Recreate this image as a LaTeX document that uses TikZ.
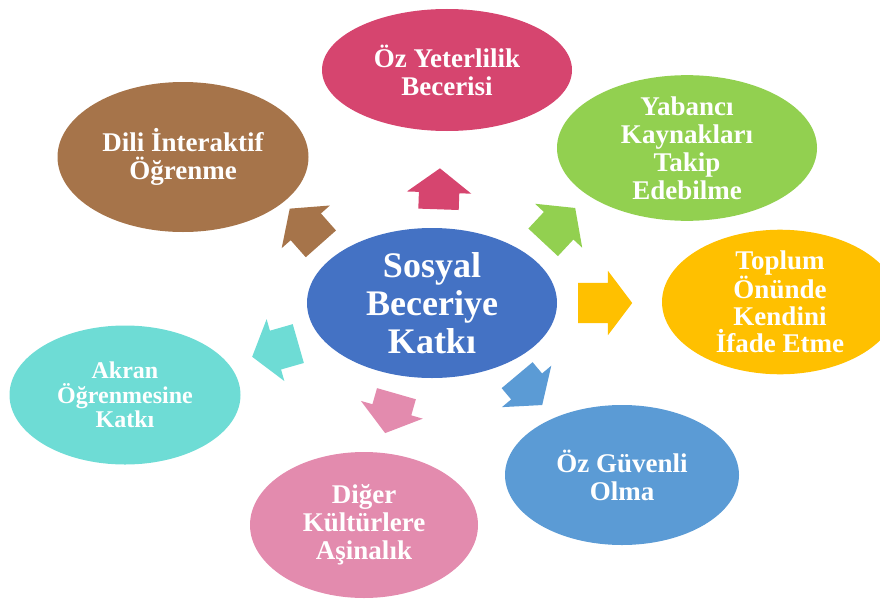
\documentclass[tikz,border=0pt]{standalone}
\usepackage{fontspec}
\setmainfont{Liberation Serif}
\usetikzlibrary{shapes.geometric, shapes.arrows}

\definecolor{cblue}{HTML}{4472C4}
\definecolor{crose}{HTML}{D6456F}
\definecolor{cgreen}{HTML}{92D050}
\definecolor{cgold}{HTML}{FFC000}
\definecolor{csky}{HTML}{5B9BD5}
\definecolor{cpink}{HTML}{E38BAE}
\definecolor{cteal}{HTML}{6EDCD5}
\definecolor{cbrown}{HTML}{A6744A}

\begin{document}
\begin{tikzpicture}[x=1pt, y=-1pt,
  bubble/.style={ellipse, draw=none, inner sep=0pt, align=center, text=white,
    font=\fontsize{27}{28}\selectfont\bfseries},
  blockarrow/.style={single arrow, draw=none, inner xsep=0pt, inner ysep=20pt,
    single arrow head extend=12pt, single arrow tip angle=106, anchor=tail}
]
\clip (0,0) rectangle (880,602);

% Centre
\node[bubble, fill=cblue, minimum width=250pt, minimum height=150pt,
  font=\fontsize{36}{38}\selectfont\bfseries] (katki) at (432,303) {Sosyal\\Beceriye\\Katkı};

% Outer bubbles
\node[bubble, fill=crose, minimum width=250pt, minimum height=122pt] (ozyet) at (447,70) {Öz Yeterlilik\\Becerisi};
\node[bubble, fill=cgreen, minimum width=260pt, minimum height=142pt] (yabanci) at (687,148) {Yabancı\\Kaynakları\\Takip\\Edebilme};
\node[bubble, fill=cgold, minimum width=236pt, minimum height=130pt,
  font=\fontsize{27}{27}\selectfont\bfseries] (toplum) at (780,302) {Toplum\\Önünde\\Kendini\\İfade Etme};
\node[bubble, fill=csky, minimum width=234pt, minimum height=140pt] (ozguv) at (622,475) {Öz Güvenli\\Olma};
\node[bubble, fill=cpink, minimum width=228pt, minimum height=146pt] (diger) at (364,525) {Diğer\\Kültürlere\\Aşinalık};
\node[bubble, fill=cteal, minimum width=231pt, minimum height=139pt,
  font=\fontsize{24}{24.5}\selectfont\bfseries] (akran) at (125,395) {Akran\\Öğrenmesine\\Katkı};
\node[bubble, fill=cbrown, minimum width=251pt, minimum height=150pt] (dili) at (183,157) {Dili İnteraktif\\Öğrenme};

% Block arrows
\foreach \nm/\x/\y/\ang/\len/\col in {
    aozyet/438.5/209.5/88/41/crose,
    ayabanci/543/242.5/47/47/cgreen,
    atoplum/578/303/0/54/cgold,
    aozguv/517/375/-50/39/csky,
    adiger/396.5/393.5/-106/41/cpink,
    aakran/298.5/343.5/196/48/cteal,
    adili/321/244/131.5/47/cbrown}
  \node[blockarrow, fill=\col, rotate=\ang, minimum height=\len pt] (\nm) at (\x,\y) {};

\end{tikzpicture}
\end{document}
